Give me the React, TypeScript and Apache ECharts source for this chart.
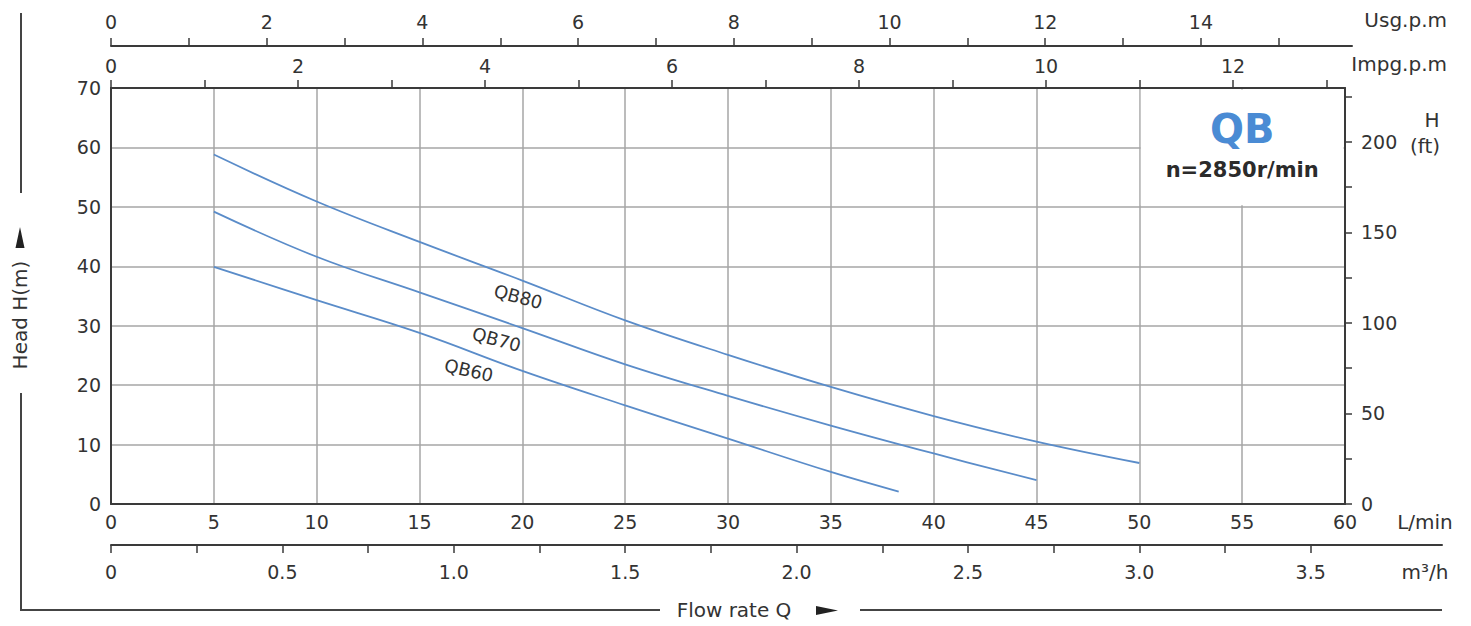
import React, { useEffect, useRef } from "react";
import * as echarts from "echarts";

// ---------- data ----------
const qb80Flow = [5, 10, 15, 20, 25, 30, 35, 40, 45, 50];
const qb80Head = [58.8, 50.9, 44.1, 37.6, 30.9, 25.1, 19.7, 14.8, 10.5, 6.9];
const qb70Flow = [5, 10, 15, 20, 25, 30, 35, 40, 45];
const qb70Head = [49.2, 41.6, 35.6, 29.6, 23.5, 18.2, 13.2, 8.5, 4.0];
const qb60Flow = [5, 10, 15, 20, 25, 30, 35, 38.3];
const qb60Head = [39.9, 34.3, 28.8, 22.4, 16.6, 11.0, 5.4, 2.1];

const curveNames = ["QB80", "QB70", "QB60"];
const curveLabelAt = [
  [19.8, 34.9],
  [18.75, 27.7],
  [17.4, 22.5],
];
const curveLabelRotate = [-15, -15, -13];

const ftTicks = [0, 25, 50, 75, 100, 125, 150, 175, 200, 225];
const ftLabels = [0, 50, 100, 150, 200];
const usgTicks = [0, 1, 2, 3, 4, 5, 6, 7, 8, 9, 10, 11, 12, 13, 14, 15];
const usgLabels = [0, 2, 4, 6, 8, 10, 12, 14];
const impTicks = [0, 1, 2, 3, 4, 5, 6, 7, 8, 9, 10, 11, 12, 13];
const impLabels = [0, 2, 4, 6, 8, 10, 12];
const m3hTicks = [0, 0.25, 0.5, 0.75, 1, 1.25, 1.5, 1.75, 2, 2.25, 2.5, 2.75, 3, 3.25, 3.5];
const m3hLabels = [0, 0.5, 1, 1.5, 2, 2.5, 3, 3.5];

const boxFlow = [50, 60];
const boxHead = [70, 50];

// ---------- units ----------
const LMIN_MAX = 60;
const HEAD_MAX = 70;
const FT_PER_M = 3.28084;
const L_PER_USG = 3.78541;
const L_PER_IMP = 4.54609;
const M3H_PER_LMIN = 0.06;

// ---------- layout ----------
const PLOT_LEFT = 111;
const PLOT_TOP = 88;
const PLOT_W = 1234;
const PLOT_H = 416;
const USG_TOP = 46;
const USG_W = 1241;
const M3H_LINE_Y = 545;
const M3H_W = 1331;

const FONT = '"DejaVu Sans", "Liberation Sans", sans-serif';
const TXT = "#333";
const AXIS = "#3a3a3a";
const GRID = "#a6a6a6";
const CURVE = "#5a8cc9";

const labelStyle = { color: TXT, fontSize: 19, fontFamily: FONT };

function textEl(text: string, x: number, y: number, opts: any = {}) {
  const align = opts.align || "center";
  return {
    type: "text",
    x,
    y,
    rotation: opts.rotation || 0,
    z: 10,
    style: {
      text,
      x: 0,
      y: 0,
      fill: opts.fill || TXT,
      font: opts.font || `20px ${FONT}`,
      align,
      verticalAlign: "middle",
      textAlign: align,
      textVerticalAlign: "middle",
    },
  };
}

export default function App() {
  const ref = useRef<HTMLDivElement>(null);

  useEffect(() => {
    if (!ref.current) return;
    const chart = echarts.init(ref.current, undefined, { renderer: "svg" });

    const usgMax = (LMIN_MAX / L_PER_USG) * (USG_W / PLOT_W);
    const impMax = LMIN_MAX / L_PER_IMP;
    const m3hMax = LMIN_MAX * M3H_PER_LMIN * (M3H_W / PLOT_W);

    const series = [
      [qb80Flow, qb80Head],
      [qb70Flow, qb70Head],
      [qb60Flow, qb60Head],
    ].map(([xs, hs], i) => ({
      type: "line",
      name: curveNames[i],
      xAxisIndex: 0,
      yAxisIndex: 0,
      smooth: 0.4,
      showSymbol: false,
      symbol: "none",
      lineStyle: { color: CURVE, width: 1.8 },
      data: xs.map((x, k) => [x, hs[k]]),
      markPoint: {
        symbol: "rect",
        symbolSize: 1,
        itemStyle: { color: "rgba(0,0,0,0)" },
        label: {
          show: true,
          position: "inside",
          formatter: curveNames[i],
          rotate: curveLabelRotate[i],
          color: TXT,
          fontSize: 18,
          fontFamily: FONT,
        },
        data: [{ coord: curveLabelAt[i] }],
      },
    }));

    const tickStyle = { color: AXIS, width: 1.5 };

    const option: any = {
      animation: false,
      backgroundColor: "#fff",
      grid: [
        { left: PLOT_LEFT, top: PLOT_TOP, width: PLOT_W, height: PLOT_H },
        { left: PLOT_LEFT, top: USG_TOP, width: USG_W, height: 20 },
        { left: PLOT_LEFT, top: M3H_LINE_Y - 20, width: M3H_W, height: 20 },
      ],
      xAxis: [
        {
          type: "value",
          gridIndex: 0,
          position: "bottom",
          min: 0,
          max: LMIN_MAX,
          interval: 5,
          axisLine: { show: true, onZero: false, lineStyle: { color: AXIS, width: 2 } },
          axisTick: { show: false },
          axisLabel: { ...labelStyle, margin: 8, showMinLabel: true, showMaxLabel: true },
          splitLine: { show: true, lineStyle: { color: GRID, width: 1.5 } },
        },
        {
          type: "value",
          gridIndex: 0,
          position: "top",
          min: 0,
          max: impMax,
          axisLine: { show: true, onZero: false, lineStyle: { color: AXIS, width: 2 } },
          axisTick: { show: true, inside: false, length: 8, customValues: impTicks, lineStyle: tickStyle },
          axisLabel: { ...labelStyle, margin: 13, customValues: impLabels, formatter: (v: number) => String(v) },
          splitLine: { show: false },
        },
        {
          type: "value",
          gridIndex: 1,
          position: "top",
          min: 0,
          max: usgMax,
          axisLine: { show: true, onZero: false, lineStyle: { color: AXIS, width: 2 } },
          axisTick: { show: true, inside: false, length: 8, customValues: usgTicks, lineStyle: tickStyle },
          axisLabel: { ...labelStyle, margin: 15, customValues: usgLabels, formatter: (v: number) => String(v) },
          splitLine: { show: false },
        },
        {
          type: "value",
          gridIndex: 2,
          position: "bottom",
          min: 0,
          max: m3hMax,
          axisLine: { show: true, onZero: false, lineStyle: { color: AXIS, width: 2 } },
          axisTick: { show: true, inside: false, length: 8, customValues: m3hTicks, lineStyle: tickStyle },
          axisLabel: {
            ...labelStyle,
            margin: 17,
            customValues: m3hLabels,
            formatter: (v: number) => (v === 0 ? "0" : v.toFixed(1)),
          },
          splitLine: { show: false },
        },
      ],
      yAxis: [
        {
          type: "value",
          gridIndex: 0,
          position: "left",
          min: 0,
          max: HEAD_MAX,
          interval: 10,
          axisLine: { show: true, onZero: false, lineStyle: { color: AXIS, width: 2 } },
          axisTick: { show: false },
          axisLabel: { ...labelStyle, margin: 10, showMinLabel: true, showMaxLabel: true },
          splitLine: { show: true, lineStyle: { color: GRID, width: 1.5 } },
        },
        {
          type: "value",
          gridIndex: 0,
          position: "right",
          min: 0,
          max: HEAD_MAX * FT_PER_M,
          axisLine: { show: true, onZero: false, lineStyle: { color: AXIS, width: 2 } },
          axisTick: { show: true, inside: false, length: 7, customValues: ftTicks, lineStyle: tickStyle },
          axisLabel: { ...labelStyle, margin: 16, customValues: ftLabels, formatter: (v: number) => String(v) },
          splitLine: { show: false },
        },
        { type: "value", gridIndex: 1, min: 0, max: 1, show: false },
        { type: "value", gridIndex: 2, min: 0, max: 1, show: false },
      ],
      series,
    };

    chart.setOption(option);

    const p1 = chart.convertToPixel({ gridIndex: 0 } as any, [boxFlow[0], boxHead[0]]) as number[];
    const p2 = chart.convertToPixel({ gridIndex: 0 } as any, [boxFlow[1], boxHead[1]]) as number[];
    const cx = (p1[0] + p2[0]) / 2;

    const frame = { stroke: "#444", lineWidth: 2 };

    chart.setOption({
      graphic: [
        {
          type: "rect",
          z: 5,
          shape: { x: p1[0] + 1.5, y: p1[1] + 1.5, width: p2[0] - p1[0] - 3, height: p2[1] - p1[1] - 3 },
          style: { fill: "#fff" },
        },
        textEl("QB", cx, p1[1] + 41, { font: `bold 40px ${FONT}`, fill: "#4a8bd4" }),
        textEl("n=2850r/min", cx, p1[1] + 82, { font: `bold 21px ${FONT}`, fill: "#2b2b2b" }),
        textEl("Usg.p.m", 1447, 20, { align: "right" }),
        textEl("Impg.p.m", 1447, 64, { align: "right" }),
        textEl("L/min", 1425, 522),
        textEl("m³/h", 1425, 572),
        textEl("H", 1432, 120),
        textEl("(ft)", 1425, 146),
        textEl("Head H(m)", 20, 315, { rotation: Math.PI / 2 }),
        textEl("Flow rate Q", 734, 610),
        {
          type: "polygon",
          z: 10,
          shape: { points: [[15.5, 248], [20, 227], [24.5, 248]] },
          style: { fill: "#222" },
        },
        {
          type: "polygon",
          z: 10,
          shape: { points: [[816, 606], [838, 610.5], [816, 615]] },
          style: { fill: "#222" },
        },
        { type: "line", z: 10, shape: { x1: 21, y1: 13, x2: 21, y2: 193 }, style: frame },
        { type: "line", z: 10, shape: { x1: 21, y1: 393, x2: 21, y2: 611 }, style: frame },
        { type: "line", z: 10, shape: { x1: 20, y1: 610, x2: 660, y2: 610 }, style: frame },
        { type: "line", z: 10, shape: { x1: 860, y1: 610, x2: 1442, y2: 610 }, style: frame },
      ],
    });

    return () => chart.dispose();
  }, []);

  return (
    <div
      ref={ref}
      style={{ position: "fixed", left: 0, top: 0, width: 1471, height: 626, background: "#fff" }}
    />
  );
}
